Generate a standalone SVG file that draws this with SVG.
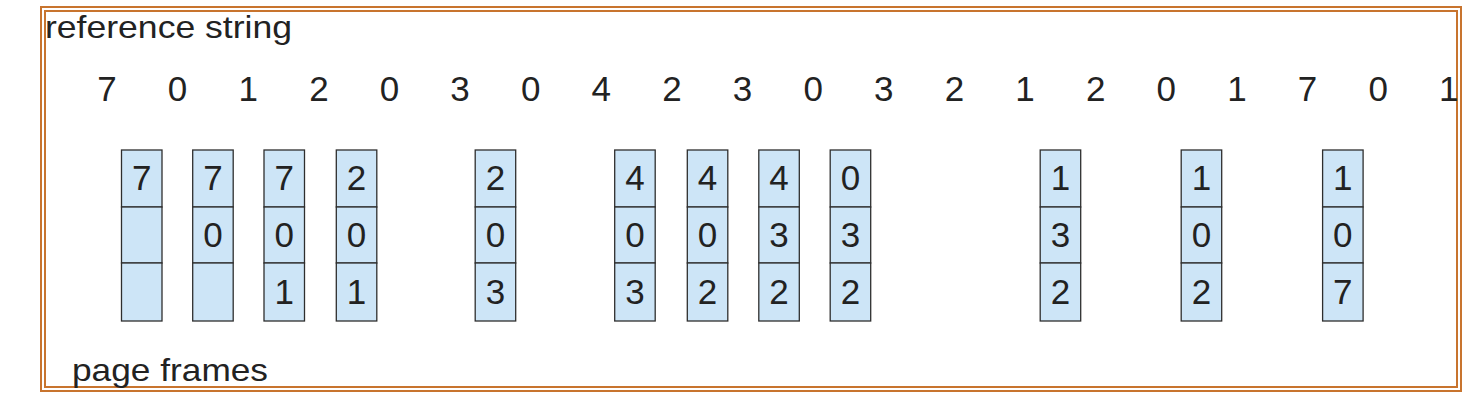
<svg xmlns="http://www.w3.org/2000/svg" width="1481" height="401" viewBox="0 0 1481 401">
<style>
.frame{fill:none;stroke:#c8742e;stroke-width:2}
.cell{fill:#cde5f7;stroke:#2e2e2e;stroke-width:1.3}
.lbl{font-family:"Liberation Sans",Arial,sans-serif;font-size:32px;fill:#222}
.dig{font-family:"Liberation Sans",Arial,sans-serif;font-size:35px;fill:#222;text-anchor:middle}
</style>
<rect width="1481" height="401" fill="#fff"/>
<g id="border">
<rect class="frame" x="41" y="7" width="1420" height="384"/>
<rect class="frame" x="45" y="11" width="1412" height="376"/>
</g>
<text class="lbl" x="45" y="38" textLength="247" lengthAdjust="spacingAndGlyphs">reference string</text>
<text class="lbl" x="72" y="381" textLength="196" lengthAdjust="spacingAndGlyphs">page frames</text>
<g id="refstring" class="dig">
<text x="107" y="101">7</text>
<text x="177.6" y="101">0</text>
<text x="248.2" y="101">1</text>
<text x="318.9" y="101">2</text>
<text x="389.5" y="101">0</text>
<text x="460.1" y="101">3</text>
<text x="530.7" y="101">0</text>
<text x="601.3" y="101">4</text>
<text x="672" y="101">2</text>
<text x="742.6" y="101">3</text>
<text x="813.2" y="101">0</text>
<text x="883.8" y="101">3</text>
<text x="954.4" y="101">2</text>
<text x="1025.1" y="101">1</text>
<text x="1095.7" y="101">2</text>
<text x="1166.3" y="101">0</text>
<text x="1236.9" y="101">1</text>
<text x="1307.5" y="101">7</text>
<text x="1378.2" y="101">0</text>
<text x="1448.8" y="101">1</text>
</g>
<defs>
<g id="col">
<rect class="cell" x="0" y="150" width="40.5" height="57"/>
<rect class="cell" x="0" y="207" width="40.5" height="56"/>
<rect class="cell" x="0" y="263" width="40.5" height="58"/>
</g>
</defs>
<g id="f1" transform="translate(121.5,0)"><use href="#col"/><g class="dig"><text x="20.25" y="190">7</text></g></g>
<g id="f2" transform="translate(192.7,0)"><use href="#col"/><g class="dig"><text x="20.25" y="190">7</text><text x="20.25" y="247">0</text></g></g>
<g id="f3" transform="translate(264,0)"><use href="#col"/><g class="dig"><text x="20.25" y="190">7</text><text x="20.25" y="247">0</text><text x="20.25" y="303.5">1</text></g></g>
<g id="f4" transform="translate(336.3,0)"><use href="#col"/><g class="dig"><text x="20.25" y="190">2</text><text x="20.25" y="247">0</text><text x="20.25" y="303.5">1</text></g></g>
<g id="f5" transform="translate(475.2,0)"><use href="#col"/><g class="dig"><text x="20.25" y="190">2</text><text x="20.25" y="247">0</text><text x="20.25" y="303.5">3</text></g></g>
<g id="f6" transform="translate(614.7,0)"><use href="#col"/><g class="dig"><text x="20.25" y="190">4</text><text x="20.25" y="247">0</text><text x="20.25" y="303.5">3</text></g></g>
<g id="f7" transform="translate(687.3,0)"><use href="#col"/><g class="dig"><text x="20.25" y="190">4</text><text x="20.25" y="247">0</text><text x="20.25" y="303.5">2</text></g></g>
<g id="f8" transform="translate(758.8,0)"><use href="#col"/><g class="dig"><text x="20.25" y="190">4</text><text x="20.25" y="247">3</text><text x="20.25" y="303.5">2</text></g></g>
<g id="f9" transform="translate(830.2,0)"><use href="#col"/><g class="dig"><text x="20.25" y="190">0</text><text x="20.25" y="247">3</text><text x="20.25" y="303.5">2</text></g></g>
<g id="f10" transform="translate(1040.2,0)"><use href="#col"/><g class="dig"><text x="20.25" y="190">1</text><text x="20.25" y="247">3</text><text x="20.25" y="303.5">2</text></g></g>
<g id="f11" transform="translate(1181.2,0)"><use href="#col"/><g class="dig"><text x="20.25" y="190">1</text><text x="20.25" y="247">0</text><text x="20.25" y="303.5">2</text></g></g>
<g id="f12" transform="translate(1322.6,0)"><use href="#col"/><g class="dig"><text x="20.25" y="190">1</text><text x="20.25" y="247">0</text><text x="20.25" y="303.5">7</text></g></g>
</svg>
